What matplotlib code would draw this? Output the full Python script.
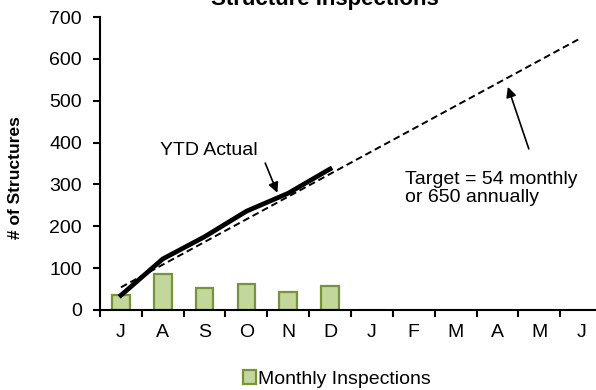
import matplotlib
matplotlib.use("Agg")
import matplotlib.pyplot as plt
import numpy as np

plt.rcParams['font.family'] = ['Liberation Sans', 'DejaVu Sans']

# fiscal-year months, July through June
months = ['J', 'A', 'S', 'O', 'N', 'D', 'J', 'F', 'M', 'A', 'M', 'J']
monthly = [35, 87, 53, 61, 43, 58]
annual_target = 650

x = np.arange(len(months))
ytd = np.cumsum(monthly)
target = annual_target / len(months) * (x + 1)

fig = plt.figure(figsize=(5.96, 3.90), dpi=100)
ax = fig.add_axes([100 / 596, 1 - 310 / 390, 502 / 596, 293 / 390])

ax.bar(x[:len(monthly)], monthly, width=0.42, color='#c3d69b',
       edgecolor='#77933c', linewidth=1.6, label='Monthly Inspections', zorder=2)
ax.plot(x, target, color='black', lw=1.4, ls=(0, (3.5, 2)), zorder=3)
ax.plot(x[:len(ytd)], ytd, color='black', lw=3.4, zorder=4)

ax.set_xlim(-0.5, 11.5)
ax.set_ylim(0, 700)
ax.set_yticks(range(0, 701, 100))

# ticks on category boundaries, labels in the middle
ax.set_xticks(np.arange(-0.5, 12, 1))
ax.set_xticklabels([])
ax.set_xticks(x, minor=True)
ax.set_xticklabels(months, minor=True)
ax.tick_params(axis='x', which='major', direction='out', length=5, width=1.5)
ax.tick_params(axis='x', which='minor', length=0, pad=10, labelsize=14)
ax.tick_params(axis='y', direction='out', length=5, width=1.5, labelsize=14, pad=8)

for side in ['top', 'right']:
    ax.spines[side].set_visible(False)
ax.spines['left'].set_linewidth(1.5)
ax.spines['bottom'].set_linewidth(1.5)

# callouts
arrow = dict(arrowstyle='-|>', color='black', lw=1.2, mutation_scale=15,
             shrinkA=0, shrinkB=0)
ax.text(2.11, 382, 'YTD Actual', ha='center', va='center', fontsize=14)
ax.annotate('', xy=(3.74, 280), xytext=(3.45, 351), arrowprops=arrow)
ax.text(6.78, 291, 'Target = 54 monthly\nor 650 annually', ha='left',
        va='center', fontsize=14, linespacing=1.1)
ax.annotate('', xy=(9.25, 533), xytext=(9.75, 385), arrowprops=arrow)

fig.text(325 / 596, 1 - 5 / 390, 'Structure Inspections', ha='center',
         va='baseline', fontsize=16, fontweight='bold')
fig.text(16 / 596, 1 - 178 / 390, '# of Structures', ha='center', va='center',
         rotation=90, fontsize=12.5, fontweight='bold')

fig.legend(loc='center', bbox_to_anchor=(337 / 596, 1 - 379 / 390),
           frameon=False, fontsize=14, handlelength=0.7, handleheight=0.7,
           handletextpad=0.1, borderpad=0)

fig.savefig('out.png', dpi=100)
